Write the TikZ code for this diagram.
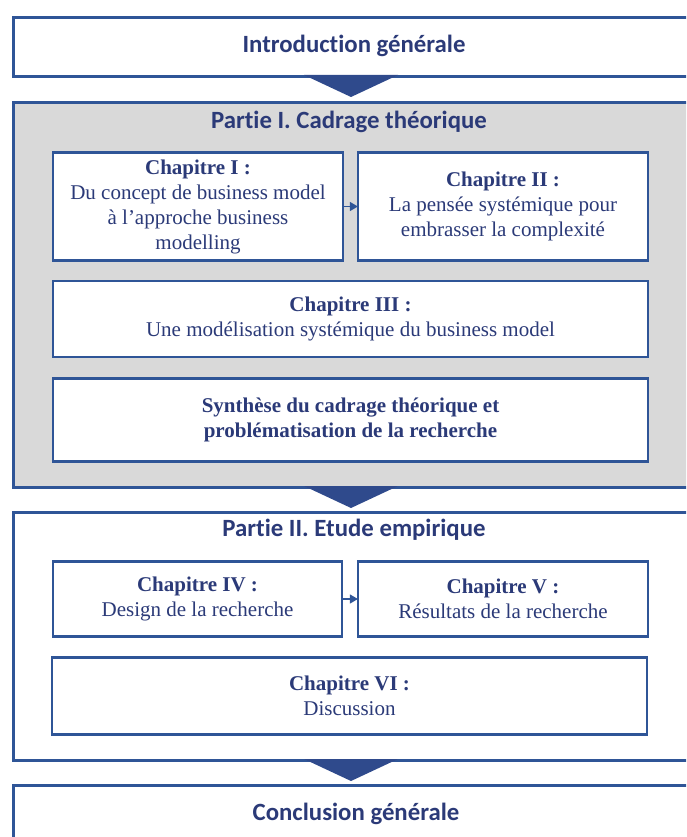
\documentclass[tikz,border=0pt]{standalone}
\usepackage{fontspec}
\setmainfont{Liberation Serif}
\newfontfamily\calib[Ligatures=CommonOff]{Carlito}
\usetikzlibrary{arrows.meta,calc}
\definecolor{bordc}{HTML}{2F5597}
\definecolor{txtc}{HTML}{2B3A78}
\definecolor{tric}{HTML}{2F4A8C}
\definecolor{grayf}{HTML}{D9D9D9}
\tikzset{
  outerbox/.style={draw=bordc, line width=2.6pt, inner sep=0pt, anchor=north west},
  chbox/.style={draw=bordc, line width=2.2pt, fill=white, align=center, text=txtc,
     font=\fontsize{21}{25}\selectfont, inner sep=0pt},
  ttl/.style={text=txtc, font=\calib\bfseries\fontsize{24.8}{25}\selectfont, inner sep=0pt},
  tri/.style={fill=tric, draw=none},
  conn/.style={draw=bordc, line width=1.2pt, -{Triangle[length=8pt,width=9pt]}, shorten >=-1pt}
}
\begin{document}
\begin{tikzpicture}[x=1pt,y=-1pt]
\path[use as bounding box] (0,0) rectangle (686,837);
\begin{scope}
\clip (0,0) rectangle (686,837);
% outer boxes
\node[outerbox, minimum width=683pt, minimum height=59pt] (intro) at (12,16) {};
\node[outerbox, fill=grayf, minimum width=683pt, minimum height=385pt] (p1) at (12,101) {};
\node[outerbox, minimum width=683pt, minimum height=248pt] (p2) at (12,511) {};
\node[outerbox, minimum width=683pt, minimum height=80pt] (concl) at (12,784) {};
% triangles
\coordinate (t1) at (351,75);
\coordinate (t2) at (351,486);
\coordinate (t3) at (351,759);
\foreach \t in {t1,t2,t3}{
  \fill[tri] ($(\t)+(-47,0)$) -- ($(\t)+(47,0)$) -- ($(\t)+(0,22)$) -- cycle;
}
% titles
\node[ttl] (introt) at (354,46) {Introduction générale};
\node[ttl] (p1t) at (349,122) {Partie I. Cadrage théorique};
\node[ttl] (p2t) at (354,530) {Partie II. Etude empirique};
\node[ttl] (conclt) at (356,814) {Conclusion générale};
% chapters
\node[chbox, minimum width=290pt, minimum height=108pt] (c1) at (198,206.5)
  {\textbf{Chapitre I :}\\Du concept de business model\\à l’approche business\\modelling};
\node[chbox, minimum width=290pt, minimum height=108pt] (c2) at (503,206.5)
  {\textbf{Chapitre II :}\\La pensée systémique pour\\embrasser la complexité};
\node[chbox, minimum width=595pt, minimum height=76pt] (c3) at (350.5,319)
  {\textbf{Chapitre III :}\\Une modélisation systémique du business model};
\node[chbox, minimum width=595pt, minimum height=83pt] (syn) at (350.5,420)
  {\textbf{Synthèse du cadrage théorique et}\\\textbf{problématisation de la recherche}};
\node[chbox, minimum width=289pt, minimum height=75pt] (c4) at (197.5,599)
  {\textbf{Chapitre IV :}\\Design de la recherche};
\node[chbox, minimum width=290pt, minimum height=75pt] (c5) at (503,599)
  {\textbf{Chapitre V :}\\Résultats de la recherche};
\node[chbox, minimum width=595pt, minimum height=77pt] (c6) at (349.5,696)
  {\textbf{Chapitre VI :}\\Discussion};
\draw[conn] (c1) -- (c2);
\draw[conn] (c4) -- (c5);
\end{scope}
\end{tikzpicture}
\end{document}
